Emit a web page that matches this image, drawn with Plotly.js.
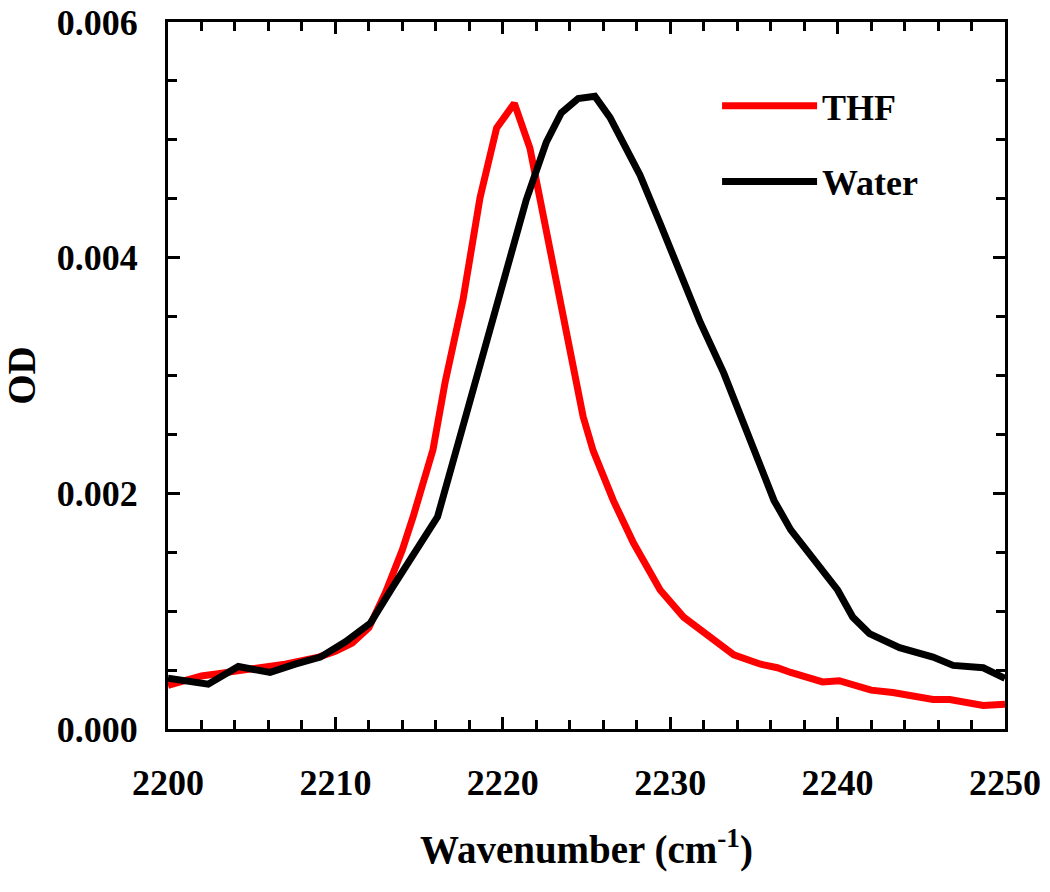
<!DOCTYPE html>
<html>
<head>
<meta charset="utf-8">
<script src="https://cdn.plot.ly/plotly-3.0.1.min.js"></script>
<style>html,body{margin:0;padding:0;background:#fff;}#chart{width:1050px;height:892px;}</style>
</head>
<body>
<div id="chart"></div>
<script>
// Wavenumber (cm-1) and OD values
const thfX = [2200.0, 2201.0, 2202.0, 2203.0, 2204.0, 2205.0, 2206.0, 2207.0, 2208.0, 2209.0, 2210.0, 2211.0, 2212.0, 2213.0, 2214.0, 2214.64, 2215.83, 2216.55, 2217.62, 2218.64, 2219.63, 2220.69, 2221.62, 2222.62, 2223.6, 2224.2, 2224.8, 2225.4, 2226.0, 2226.6, 2227.8, 2229.4, 2230.8, 2231.8, 2233.8, 2235.4, 2236.4, 2237.2, 2238.0, 2239.1, 2240.1, 2241.0, 2242.0, 2243.3, 2244.5, 2245.7, 2246.7, 2247.7, 2248.7, 2250.0];
const thfY = [0.00037, 0.00041, 0.00045, 0.00047, 0.00049, 0.00050, 0.00052, 0.00055, 0.00058, 0.00061, 0.00066, 0.00073, 0.00086, 0.00116, 0.00152, 0.00180, 0.00237, 0.00294, 0.00364, 0.00451, 0.00510, 0.00531, 0.00493, 0.00423, 0.00347, 0.00305, 0.00265, 0.00236, 0.00214, 0.00194, 0.00158, 0.00118, 0.00095, 0.00084, 0.00063, 0.00055, 0.00052, 0.00048, 0.00044, 0.00040, 0.00041, 0.00037, 0.00033, 0.00031, 0.00028, 0.00025, 0.00025, 0.00023, 0.00020, 0.00021];

const waterX = [2200.0, 2201.2, 2202.4, 2204.2, 2206.1, 2207.6, 2209.1, 2210.6, 2212.1, 2213.4, 2214.5, 2215.5, 2216.1, 2217.6, 2218.6, 2219.6, 2220.5, 2221.4, 2222.6, 2223.5, 2224.5, 2225.5, 2226.4, 2227.4, 2228.2, 2229.4, 2230.6, 2231.8, 2233.2, 2234.3, 2235.4, 2236.2, 2237.2, 2238.6, 2240.0, 2240.9, 2241.9, 2243.7, 2245.7, 2246.9, 2248.7, 2250.0];
const waterY = [0.00043, 0.00040, 0.00038, 0.00053, 0.00048, 0.00055, 0.00061, 0.00074, 0.00090, 0.00120, 0.00145, 0.00165, 0.00180, 0.00256, 0.00307, 0.00355, 0.00400, 0.00449, 0.00498, 0.00523, 0.00535, 0.00537, 0.00519, 0.00491, 0.00470, 0.00429, 0.00387, 0.00345, 0.00302, 0.00262, 0.00226, 0.00194, 0.00169, 0.00143, 0.00118, 0.00095, 0.00081, 0.00069, 0.00061, 0.00054, 0.00052, 0.00043];

const seriesNames = ["THF", "Water"];
const seriesColors = ["#ff0000", "#000000"];

const FONT = "Liberation Serif, Times New Roman, serif";

const traces = [
  {x: thfX, y: thfY, name: seriesNames[0], legendgroup: "a", type: "scatter", mode: "lines",
   line: {color: seriesColors[0], width: 7}},
  {x: waterX, y: waterY, name: seriesNames[1], legendgroup: "b", type: "scatter", mode: "lines",
   line: {color: seriesColors[1], width: 7}}
];

const axisCommon = {
  showgrid: false, zeroline: false,
  showline: true, linecolor: "#000", linewidth: 3, mirror: "ticks",
  ticks: "inside", ticklen: 12, tickwidth: 3, tickcolor: "#000",
  tickfont: {family: FONT, size: 36, color: "#000", weight: "bold"}
};

const layout = {
  width: 1050, height: 892,
  margin: {l: 168, r: 45, t: 22, b: 163, pad: 0},
  paper_bgcolor: "#fff", plot_bgcolor: "#fff",
  showlegend: true,
  legend: {x: 0.656, y: 0.924, xanchor: "left", yanchor: "top",
           bgcolor: "rgba(0,0,0,0)", itemwidth: 95, tracegroupgap: 26,
           font: {family: FONT, size: 36, color: "#000", weight: "bold"}},
  xaxis: Object.assign({}, axisCommon, {
    range: [2200, 2250], tick0: 2200, dtick: 10, ticklabelstandoff: 20,
    minor: {dtick: 2, ticks: "inside", ticklen: 9, tickwidth: 3, tickcolor: "#000"},
    title: {text: "Wavenumber (cm<sup>-1</sup>)", standoff: 34,
            font: {family: FONT, size: 39, color: "#000", weight: "bold"}}
  }),
  yaxis: Object.assign({}, axisCommon, {
    range: [0, 0.006], tick0: 0, dtick: 0.002, tickformat: ".3f", ticklabelstandoff: 20,
    minor: {dtick: 0.0005, ticks: "inside", ticklen: 9, tickwidth: 3, tickcolor: "#000"},
    title: {text: "OD", standoff: 16,
            font: {family: FONT, size: 39, color: "#000", weight: "bold"}}
  })
};

Plotly.newPlot("chart", traces, layout, {displayModeBar: false, staticPlot: true});
</script>
</body>
</html>
